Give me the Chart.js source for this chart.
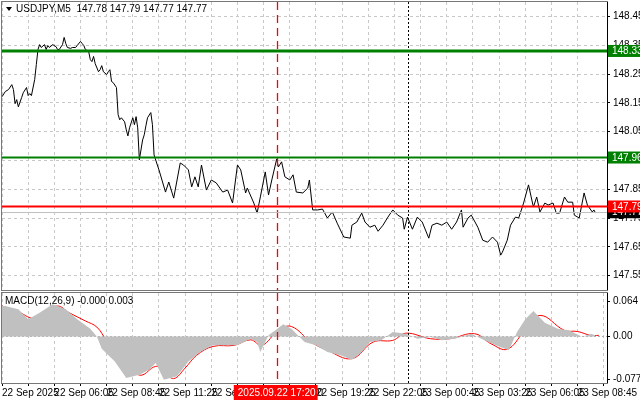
<!DOCTYPE html>
<html><head><meta charset="utf-8">
<script src="https://cdn.jsdelivr.net/npm/chart.js@4"></script>
<style>
html,body{margin:0;padding:0;background:#fff;width:640px;height:401px;overflow:hidden}
#c1{position:absolute;left:0;top:0}
#c2{position:absolute;left:0;top:291px}
</style></head><body>
<canvas id="c1" width="640" height="291"></canvas>
<canvas id="c2" width="640" height="110"></canvas>
<script>
const symbolTitle = "USDJPY,M5  147.78 147.79 147.77 147.77";
const macdTitle = "MACD(12,26,9) -0.000 0.003";
const timeLabels = ["22 Sep 2025","22 Sep 06:05","22 Sep 08:45","22 Sep 11:25","22 Sep 14:05","22 Sep 17:20","22 Sep 19:25","22 Sep 22:05","23 Sep 00:45","23 Sep 03:25","23 Sep 06:05","23 Sep 08:45"];
const priceTicks = [147.55,147.65,147.75,147.85,147.95,148.05,148.15,148.25,148.35,148.45];
const macdTicks = [-0.077,0,0.064];
const priceBars = [0,2,4,6,7,8,9,10,12,13,15,16,17,18,20,21,22,23,24,26,27,28,29,31,33,34,35,37,38,39,40,42,43,45,46,48,49,50,51,53,54,55,56,57,59,60,61,62,64,65,66,67,68,70,71,72,73,75,76,77,78,80,81,82,83,84,86,87,88,89,91,92,93,95,96,100,102,105,109,111,114,116,118,120,122,125,128,131,135,138,141,144,146,149,150,154,156,158,161,163,165,168,169,171,173,176,178,180,184,187,188,190,193,196,199,202,205,209,213,214,217,220,222,225,228,230,233,236,239,242,245,246,248,251,254,257,261,263,266,269,272,275,278,281,282,285,287,291,294,297,300,303,305,306,309,311,314,316,319,322,325,327,329,332,334,337,339,341,344,346,349,350,353,356,358,361,362,363];
const priceClose = [148.171,148.189,148.196,148.213,148.196,148.147,148.161,148.136,148.168,148.185,148.203,148.175,148.182,148.175,148.231,148.283,148.335,148.352,148.342,148.352,148.335,148.349,148.342,148.352,148.345,148.335,148.335,148.352,148.377,148.356,148.342,148.339,148.342,148.342,148.349,148.363,148.356,148.349,148.335,148.328,148.300,148.293,148.311,148.286,148.258,148.265,148.279,148.258,148.248,148.258,148.265,148.224,148.220,148.203,148.109,148.091,148.098,148.084,148.056,148.035,148.063,148.098,148.074,148.102,148.063,147.952,148.021,148.039,148.070,148.098,148.116,148.074,147.969,147.934,147.917,147.840,147.875,147.819,147.941,147.934,147.917,147.858,147.893,147.858,147.934,147.847,147.882,147.872,147.840,147.847,147.802,147.934,147.917,147.837,147.854,147.802,147.767,147.823,147.910,147.830,147.882,147.955,147.927,147.945,147.893,147.882,147.900,147.840,147.837,147.854,147.882,147.778,147.778,147.781,147.750,147.771,147.732,147.684,147.680,147.725,147.736,147.767,147.736,147.718,147.725,147.704,147.725,147.753,147.778,147.760,147.750,147.711,147.753,147.711,147.753,147.736,147.680,147.725,147.732,147.725,147.736,147.711,147.736,147.778,147.718,147.750,147.760,147.718,147.673,147.666,147.684,147.666,147.621,147.631,147.673,147.725,147.753,147.750,147.802,147.865,147.788,147.823,147.771,147.802,147.795,147.802,147.767,147.767,147.823,147.805,147.805,147.760,147.750,147.837,147.795,147.771,147.778,147.767];
const levelValues = [148.33,147.96,147.79];
const levelColors = ["#008000","#008000","#ff0000"];
const levelWidths = [3,2,2];
const currentPrice = 147.77;
const histBars = [0,2,10,16,23,31,39,46,54,58,61,69,76,84,90,94,99,107,114,121,129,137,144,152,156,158,163,167,172,177,185,192,199,207,214,219,225,232,239,247,254,262,269,277,287,295,302,310,315,320,325,332,340,347,355,360,363];
const histValues = [0.055,0.055,0.049,0.031,0.043,0.058,0.049,0.031,0.014,0,-0.022,-0.045,-0.075,-0.069,-0.060,-0.048,-0.078,-0.072,-0.045,-0.028,-0.016,-0.016,-0.016,-0.004,-0.010,-0.028,0.002,0.011,0.022,0.014,-0.010,-0.016,-0.028,-0.034,-0.042,-0.031,-0.010,-0.007,0.008,0.005,-0.004,-0.001,-0.007,-0.004,0.005,-0.007,-0.016,-0.025,0.008,0.031,0.046,0.025,0.014,0.011,-0.001,0.005,0.002];
const sigBars = [0,9,20,26,34,41,51,58,64,71,79,85,94,99,105,112,119,129,142,152,159,169,177,189,199,214,227,239,247,262,274,289,299,309,319,329,344,352,360,365];
const sigValues = [0.055,0.046,0.032,0.043,0.055,0.043,0.028,0.017,-0.007,-0.028,-0.057,-0.070,-0.054,-0.063,-0.076,-0.057,-0.034,-0.018,-0.016,-0.006,-0.016,0.011,0.018,-0.010,-0.025,-0.040,-0.010,-0.007,0.006,-0.004,-0.004,0.005,-0.013,-0.023,0.008,0.038,0.011,0.009,0.002,0.002];
const redMarkerBar = 168, redMarkerText = "2025.09.22 17:20";
const blackMarkerBar = 248;
const barMax = 370;

const FONT = {family:"'Liberation Sans', Arial, sans-serif", size:10};
const gridCol = "#c8c8c8";
function pts(xs, ys){return xs.map((x,i)=>({x:x,y:ys[i]}));}
function noPad(s){s.paddingTop=0;s.paddingBottom=0;s.paddingLeft=0;s.paddingRight=0;}

const markers = {
  id:'markers',
  afterDatasetsDraw(chart){
    const ctx=chart.ctx, a=chart.chartArea, xs=chart.scales.x;
    ctx.save();
    ctx.lineWidth=1;
    let bx=Math.round(xs.getPixelForValue(blackMarkerBar))+0.5;
    ctx.strokeStyle="#000"; ctx.setLineDash([2,2]);
    ctx.beginPath(); ctx.moveTo(bx,a.top); ctx.lineTo(bx,a.bottom); ctx.stroke();
    let rx=Math.round(xs.getPixelForValue(redMarkerBar))+0.5;
    ctx.strokeStyle="rgb(255,0,0)"; ctx.lineWidth=1.3; ctx.setLineDash([8,5]);
    ctx.beginPath(); ctx.moveTo(rx,a.top); ctx.lineTo(rx,a.bottom); ctx.stroke();
    ctx.setLineDash([]); ctx.lineWidth=1;
    ctx.strokeStyle="#777";
    ctx.strokeRect(a.left-0.5,a.top-0.5,a.right-a.left+1,a.bottom-a.top+1);
    ctx.strokeStyle="#000";
    ctx.beginPath(); ctx.moveTo(a.right+0.5,a.top); ctx.lineTo(a.right+0.5,a.bottom); ctx.stroke();
    ctx.restore();
  }
};

const mainPlugin = {
  id:'mainDecor',
  afterDatasetsDraw(chart){
    const ctx=chart.ctx, a=chart.chartArea, ys=chart.scales.y;
    ctx.save();
    let cy=Math.round(ys.getPixelForValue(currentPrice))+0.5;
    ctx.strokeStyle="#c0c0c0"; ctx.lineWidth=1;
    ctx.beginPath(); ctx.moveTo(a.left,cy); ctx.lineTo(a.right,cy); ctx.stroke();
    levelValues.forEach((v,i)=>{
      let y=ys.getPixelForValue(v);
      ctx.strokeStyle=levelColors[i]; ctx.lineWidth=levelWidths[i];
      ctx.beginPath(); ctx.moveTo(a.left,y); ctx.lineTo(a.right,y); ctx.stroke();
    });
    ctx.font="10px 'Liberation Sans', Arial, sans-serif";
    ctx.textBaseline="middle"; ctx.textAlign="left";
    const box=(v,bg)=>{
      let y=ys.getPixelForValue(v);
      ctx.fillStyle=bg; ctx.fillRect(a.right+1,y-6,32,12);
      ctx.fillStyle="#fff"; ctx.fillText(v.toFixed(2),a.right+5,y+0.5);
    };
    box(currentPrice,"#000");
    levelValues.forEach((v,i)=>box(v,levelColors[i]));
    ctx.fillStyle="#000";
    ctx.beginPath(); ctx.moveTo(6,7); ctx.lineTo(12,7); ctx.lineTo(9,11); ctx.closePath(); ctx.fill();
    ctx.fillText(symbolTitle,16,9);
    ctx.restore();
  }
};

new Chart(document.getElementById('c1'),{
  type:'line',
  data:{datasets:[{data:pts(priceBars,priceClose),borderColor:"#000",borderWidth:1,pointRadius:0,tension:0}]},
  options:{
    responsive:false,animation:false,
    layout:{padding:{left:2,top:2,right:0,bottom:1}},
    plugins:{legend:{display:false},tooltip:{enabled:false}},
    scales:{
      x:{type:'linear',min:0,max:barMax,
        ticks:{display:false,stepSize:16},
        grid:{color:gridCol,drawTicks:false},border:{display:false,dash:[3,3]},
        afterFit:s=>{s.height=0;noPad(s);}},
      y:{position:'right',min:147.5,max:148.5,
        afterBuildTicks:s=>{s.ticks=priceTicks.map(v=>({value:v}));},
        ticks:{font:FONT,color:"#000",padding:3,callback:v=>v.toFixed(2)},
        grid:{color:gridCol,tickColor:"#000",tickLength:3},border:{display:false,dash:[3,3]},
        afterFit:s=>{s.width=33;noPad(s);}}
    }
  },
  plugins:[markers,mainPlugin]
});

const macdPlugin = {
  id:'macdDecor',
  afterDraw(chart){
    const ctx=chart.ctx, a=chart.chartArea, xs=chart.scales.x;
    ctx.save();
    ctx.font="10px 'Liberation Sans', Arial, sans-serif";
    ctx.fillStyle="#000"; ctx.textBaseline="middle";
    ctx.fillText(macdTitle,5,a.top+8);
    let rx=xs.getPixelForValue(redMarkerBar);
    let w=ctx.measureText(redMarkerText).width+6;
    ctx.fillStyle="#ff0000"; ctx.fillRect(rx-w/2-1,a.bottom+2,w,15);
    ctx.fillStyle="#fff"; ctx.textAlign="center";
    ctx.fillText(redMarkerText,rx,a.bottom+10);
    ctx.restore();
  }
};

new Chart(document.getElementById('c2'),{
  type:'line',
  data:{datasets:[
    {data:pts(histBars,histValues),borderColor:"#c0c0c0",borderWidth:0,backgroundColor:"#c0c0c0",fill:'origin',pointRadius:0,tension:0},
    {data:pts(sigBars,sigValues),borderColor:"#ff0000",borderWidth:1,pointRadius:0,tension:0.4,fill:false}
  ]},
  options:{
    responsive:false,animation:false,
    layout:{padding:{left:2,top:2,right:0,bottom:0}},
    plugins:{legend:{display:false},tooltip:{enabled:false}},
    scales:{
      x:{type:'linear',min:0,max:barMax,
        afterBuildTicks:s=>{const t=[];for(let v=0;v<=barMax;v+=16)t.push({value:v});s.ticks=t;},
        ticks:{font:FONT,color:"#000",maxRotation:0,autoSkip:false,align:'start',padding:1,
          callback:v=>(v%32===0&&timeLabels[v/32])?timeLabels[v/32]:''},
        grid:{color:gridCol,tickColor:"#000",tickLength:3},border:{display:false,dash:[3,3]},
        afterFit:s=>{s.height=18;noPad(s);}},
      y:{position:'right',min:-0.084,max:0.0785,
        afterBuildTicks:s=>{s.ticks=macdTicks.map(v=>({value:v}));},
        ticks:{font:FONT,color:"#000",padding:3,callback:v=>v===0?"0.00":String(v)},
        grid:{color:c=>c.tick&&c.tick.value===0?"#b0b0b0":"rgba(0,0,0,0)",tickColor:"#000",tickLength:3},border:{display:false,dash:[2,2]},
        afterFit:s=>{s.width=33;noPad(s);}}
    }
  },
  plugins:[markers,macdPlugin]
});
</script>
</body></html>
